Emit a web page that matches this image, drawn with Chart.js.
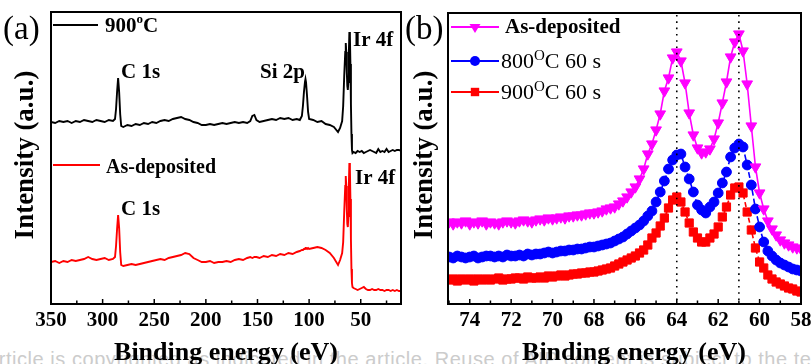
<!DOCTYPE html>
<html><head><meta charset="utf-8">
<script src="https://cdn.jsdelivr.net/npm/chart.js@4"></script>
<style>
html,body{margin:0;padding:0;width:812px;height:364px;overflow:hidden;background:#fff;}
#wm{position:absolute;left:-13px;top:349px;font:20px "Liberation Sans",Arial,sans-serif;letter-spacing:0.55px;color:#cccccc;white-space:nowrap;line-height:20px;z-index:0;}
#ca{position:absolute;left:0;top:0;z-index:1}
#cb{position:absolute;left:400px;top:0;z-index:2}
</style></head><body>
<div id="wm">article is copyrighted as indicated in the article. Reuse of AIP content is subject to the terms at</div>
<canvas id="ca" width="406" height="364"></canvas>
<canvas id="cb" width="430" height="364"></canvas>
<script>
// ---------- Panel (a): XPS survey ----------
const energyA = [
  350,346,342,338,334,330,326,322,318,314,
  310,306,302,298,294,290,288,287,286,285,
  284,283,282,280,276,272,268,264,260,256,
  252,248,244,240,236,232,228,224,220,216,
  212,208,204,200,196,192,188,184,180,176,
  172,168,164,160,157,155,153,151,148,144,
  140,136,132,128,124,120,116,112,109,107,
  106,105,104,103.5,103,102,101,100,96,92,
  88,84,80,76,72,70,68,67,66,65,
  64.5,64,63.5,63,62.5,62,61.5,61,60.5,60,
  59.5,59,58.5,58,57,55,53,51,49,47,
  45,43,41,39,37,35,33,31,29,27,
  25,23,21,19,17,15,13,11
];
const survey900C = [
  182,181,183,182,183,181,183,182,184,183,
  182,184,183,182,184,183,185,195,212,226,
  212,190,178,177,179,178,180,179,181,180,
  182,181,183,184,183,185,186,187,185,184,
  182,181,179,179,180,179,180,181,180,181,
  182,181,182,181,183,188,189,184,182,183,
  184,185,184,186,185,186,184,185,184,188,
  198,212,222,225,222,208,192,185,184,182,
  183,180,179,177,172,176,183,198,228,252,
  261,252,232,218,214,222,252,272,268,240,
  200,170,154,151,152,151,153,152,153,151,
  152,153,154,153,152,151,155,152,153,152,
  155,152,153,154,153,154,154,153
];
const surveyAsDep = [
  42,43,41,43,42,44,43,44,45,47,
  45,44,45,46,44,45,47,58,75,89,
  76,52,39,38,39,40,39,40,41,42,
  43,44,45,44,46,47,48,49,51,50,
  46,44,42,42,43,41,42,42,43,42,
  44,45,44,46,47,46,47,47,46,48,
  47,49,48,50,49,51,50,52,53,54,
  54,55,55,56,56,55,56,55,56,57,
  56,54,51,46,39,44,51,62,92,118,
  128,118,95,80,77,88,120,141,135,105,
  65,35,21,17,16,15,14,15,16,17,
  15,14,14,15,14,14,15,14,14,13,
  14,14,13,14,13,14,13,13
];
const xTicksA = [350,300,250,200,150,100,50];
const xMinorA = [325,275,225,175,125,75,25];

// ---------- Panel (b): Ir 4f ----------
const energyB = [
  75.0,74.8,74.6,74.4,74.2,74.0,73.8,73.6,73.4,73.2,
  73.0,72.8,72.6,72.4,72.2,72.0,71.8,71.6,71.4,71.2,
  71.0,70.8,70.6,70.4,70.2,70.0,69.8,69.6,69.4,69.2,
  69.0,68.8,68.6,68.4,68.2,68.0,67.8,67.6,67.4,67.2,
  67.0,66.8,66.6,66.4,66.2,66.0,65.8,65.6,65.4,65.2,
  65.0,64.8,64.6,64.4,64.2,64.0,63.8,63.6,63.4,63.2,
  63.0,62.8,62.6,62.4,62.2,62.0,61.8,61.6,61.4,61.2,
  61.0,60.8,60.6,60.4,60.2,60.0,59.8,59.6,59.4,59.2,
  59.0,58.8,58.6,58.4,58.2,58.0
];
const ir4fAsDep = [
  82,80,82,81,83,80,82,81,83,80,
  82,81,80,82,83,82,81,83,84,83,
  82,84,85,84,86,85,86,87,86,88,
  88,89,89,90,91,91,92,93,95,96,
  97,100,103,107,112,117,125,135,150,160,
  174,190,213,226,246,252,243,221,191,169,
  156,151,152,155,165,181,201,222,247,262,
  270,253,220,178,137,111,95,83,75,69,
  64,61,59,57,56,55
];
const ir4f800 = [
  47,46,48,47,46,47,48,46,47,48,
  48,47,48,47,49,48,48,49,48,50,
  49,50,50,51,52,51,52,53,53,54,
  54,55,55,56,57,57,58,59,60,61,
  63,65,67,70,73,76,79,83,88,93,
  102,112,123,135,144,149,150,137,125,112,
  99,94,91,97,102,111,121,132,147,156,
  160,157,139,119,95,77,62,53,48,44,
  41,39,37,35,34,33
];
const ir4f900 = [
  24,25,23,25,24,25,23,25,24,25,
  24,25,26,24,25,25,26,26,25,27,
  26,26,27,26,28,27,28,29,28,29,
  30,30,31,31,32,32,33,34,35,36,
  38,40,42,44,46,48,51,54,59,66,
  71,78,86,96,104,107,102,92,81,72,
  66,62,62,66,70,77,87,97,109,116,
  117,111,92,74,56,42,36,29,25,22,
  20,18,16,15,13,12
];
const xTicksB = [74,72,70,68,66,64,62,60,58];
const xMinorB = [75,73,71,69,67,65,63,61,59];
const peakLines = [64.0, 61.0];

const SERIF = '"Liberation Serif","Times New Roman",serif';
const f = (w, s) => `${w} ${s}px ${SERIF}`;

function drawParts(ctx, x, y, parts) {
  parts.forEach(([t, font, dy]) => {
    ctx.font = font; ctx.fillText(t, x, y + (dy || 0));
    x += ctx.measureText(t).width;
  });
}
function frameAndTicks(chart, majors, minors) {
  const {ctx, chartArea: {left, right, top, bottom}, scales: {x}} = chart;
  ctx.save();
  ctx.strokeStyle = '#000';
  ctx.lineWidth = 1.5;
  majors.forEach(v => { const p = x.getPixelForValue(v); ctx.beginPath(); ctx.moveTo(p, bottom); ctx.lineTo(p, bottom - 5); ctx.stroke(); });
  minors.forEach(v => { const p = x.getPixelForValue(v); ctx.beginPath(); ctx.moveTo(p, bottom); ctx.lineTo(p, bottom - 3.5); ctx.stroke(); });
  ctx.lineWidth = 2;
  ctx.strokeRect(left, top, right - left, bottom - top);
  ctx.restore();
}
function axisTitles(ctx, yx, yy, xx, xy) {
  ctx.save();
  ctx.fillStyle = '#000';
  ctx.font = f('bold', 26);
  ctx.textAlign = 'center';
  ctx.textBaseline = 'alphabetic';
  ctx.fillText('Binding energy (eV)', xx, xy);
  ctx.translate(yx, yy);
  ctx.rotate(-Math.PI / 2);
  ctx.font = f('bold', 27);
  ctx.fillText('Intensity (a.u.)', 0, 0);
  ctx.restore();
}

const panelA = {
  id: 'panelA',
  afterDraw(chart) {
    const ctx = chart.ctx;
    frameAndTicks(chart, xTicksA, xMinorA);
    axisTitles(ctx, 33, 155, 226, 360);
    ctx.save();
    ctx.fillStyle = '#000'; ctx.textBaseline = 'alphabetic'; ctx.textAlign = 'left';
    ctx.font = f('normal', 33); ctx.fillText('(a)', 3, 39);
    // legend
    ctx.lineWidth = 2;
    ctx.strokeStyle = '#000'; ctx.beginPath(); ctx.moveTo(53, 25); ctx.lineTo(98, 25); ctx.stroke();
    drawParts(ctx, 105, 32, [['900', f('bold', 21)], ['o', f('bold', 13), -9], ['C', f('bold', 21)]]);
    ctx.strokeStyle = '#ff0000'; ctx.beginPath(); ctx.moveTo(53, 165); ctx.lineTo(100, 165); ctx.stroke();
    ctx.font = f('bold', 20); ctx.fillText('As-deposited', 106, 173);
    // peak labels
    ctx.font = f('bold', 21);
    ctx.fillText('C 1s', 121, 78);
    ctx.fillText('Si 2p', 260, 78);
    ctx.fillText('Ir 4f', 353, 46);
    ctx.fillText('C 1s', 121, 215);
    ctx.fillText('Ir 4f', 355, 184);
    ctx.restore();
  }
};

function marker(ctx, style, x, y, color) {
  ctx.fillStyle = color; ctx.strokeStyle = color;
  ctx.beginPath();
  if (style === 'tri') { ctx.moveTo(x - 5.5, y - 3); ctx.lineTo(x + 5.5, y - 3); ctx.lineTo(x, y + 6); ctx.closePath(); }
  else if (style === 'circ') { ctx.arc(x, y, 5, 0, Math.PI * 2); }
  else { ctx.rect(x - 4.2, y - 4.2, 8.4, 8.4); }
  ctx.fill();
}

const panelB = {
  id: 'panelB',
  afterDatasetsDraw(chart) {
    const {ctx, chartArea: {top, bottom}, scales: {x}} = chart;
    ctx.save();
    ctx.strokeStyle = '#000'; ctx.lineWidth = 1.6; ctx.setLineDash([1.6, 4.7]);
    peakLines.forEach(v => { const p = x.getPixelForValue(v); ctx.beginPath(); ctx.moveTo(p, top + 2); ctx.lineTo(p, bottom); ctx.stroke(); });
    ctx.restore();
  },
  afterDraw(chart) {
    const ctx = chart.ctx;
    frameAndTicks(chart, xTicksB, xMinorB);
    axisTitles(ctx, 32, 155, 234, 360);
    ctx.save();
    ctx.fillStyle = '#000'; ctx.textBaseline = 'alphabetic'; ctx.textAlign = 'left';
    ctx.font = f('normal', 33); ctx.fillText('(b)', 5, 39);
    const rows = [
      {y: 27, c: '#ff00ff', m: 'tri', base: 33, parts: [['As-deposited', f('bold', 21)]], tx: 105},
      {y: 61, c: '#0000ff', m: 'circ', base: 68, parts: [['800', f('normal', 22)], ['O', f('normal', 15), -8], ['C 60 s', f('normal', 22)]], tx: 101},
      {y: 92, c: '#ff0000', m: 'rect', base: 99, parts: [['900', f('normal', 22)], ['O', f('normal', 15), -8], ['C 60 s', f('normal', 22)]], tx: 101}
    ];
    rows.forEach(r => {
      ctx.strokeStyle = r.c; ctx.lineWidth = 1.8;
      ctx.beginPath(); ctx.moveTo(51, r.y); ctx.lineTo(99, r.y); ctx.stroke();
      marker(ctx, r.m, 75, r.y, r.c);
      ctx.fillStyle = '#000';
      drawParts(ctx, r.tx, r.base, r.parts);
    });
    ctx.restore();
  }
};

const tickFont = {family: SERIF, size: 21, weight: 'bold'};
function xScale(min, max, ticks) {
  return {
    type: 'linear', reverse: true, min, max,
    afterBuildTicks: ax => { ax.ticks = ticks.map(v => ({value: v})); },
    grid: {display: false, drawTicks: false}, border: {display: false},
    ticks: {autoSkip: false, maxRotation: 0, padding: 4, color: '#000', font: tickFont}
  };
}
const common = {responsive: false, animation: false, devicePixelRatio: 1,
  plugins: {legend: {display: false}, tooltip: {enabled: false}}};

new Chart(document.getElementById('ca'), {
  type: 'line',
  data: {datasets: [
    {label: '900°C', data: energyA.map((e, i) => ({x: e, y: survey900C[i]})), borderColor: '#000', borderWidth: 1.9, pointRadius: 0, tension: 0},
    {label: 'As-deposited', data: energyA.map((e, i) => ({x: e, y: surveyAsDep[i]})), borderColor: '#ff0000', borderWidth: 1.9, pointRadius: 0, tension: 0}
  ]},
  options: Object.assign({}, common, {
    layout: {padding: {left: 51, right: 5, top: 12, bottom: 26.8}},
    scales: {x: xScale(11, 350, xTicksA), y: {display: false, min: 0, max: 292}}
  }),
  plugins: [panelA]
});

function ds(label, vals, color, style, radius, dash) {
  return {label, data: energyB.map((e, i) => ({x: e, y: vals[i]})), borderColor: color, backgroundColor: color,
    pointBackgroundColor: color, pointBorderColor: color, pointBorderWidth: 1, borderWidth: 1.6, borderDash: dash,
    pointStyle: style, pointRotation: style === 'triangle' ? 180 : 0, pointRadius: radius, tension: 0};
}
new Chart(document.getElementById('cb'), {
  type: 'line',
  data: {datasets: [
    ds('As-deposited', ir4fAsDep, '#ff00ff', 'triangle', 6.2, []),
    ds('800°C 60 s', ir4f800, '#0000ff', 'circle', 4.9, [6, 3]),
    ds('900°C 60 s', ir4f900, '#ff0000', 'rect', 5.8, [5, 3])
  ]},
  options: Object.assign({}, common, {
    layout: {padding: {left: 48, right: 29, top: 13, bottom: 26.8}},
    scales: {x: xScale(58, 75.05, xTicksB), y: {display: false, min: 0, max: 291}}
  }),
  plugins: [panelB]
});
</script></body></html>
